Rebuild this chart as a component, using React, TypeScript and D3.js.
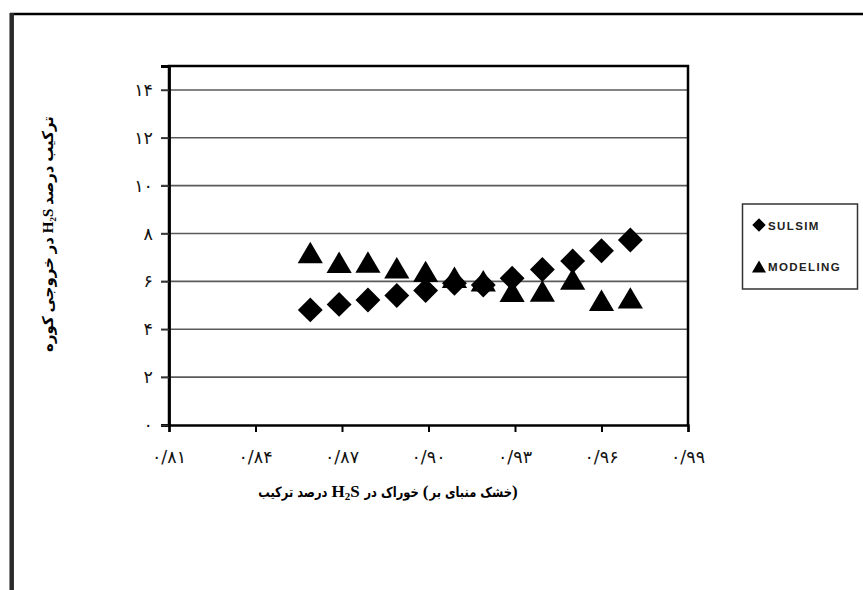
import React, { useEffect, useRef } from "react";
import * as d3 from "d3";

// feed H2S fraction (dry basis)
const feedH2S = [0.859, 0.869, 0.879, 0.889, 0.899, 0.909, 0.919, 0.929, 0.9395, 0.95, 0.96, 0.97];
const sulsim = [4.81, 5.04, 5.22, 5.41, 5.62, 5.92, 5.85, 6.13, 6.5, 6.85, 7.28, 7.73];
const modeling = [7.21, 6.8, 6.81, 6.57, 6.42, 6.17, 6.03, 5.59, 5.6, 6.1, 5.21, 5.31];

const xTicks = [0.81, 0.84, 0.87, 0.9, 0.93, 0.96, 0.99];
const yTicks = [0, 2, 4, 6, 8, 10, 12, 14];
const seriesNames = ["SULSIM", "MODELING"];

const xTitleWords = ["ترکیب", "درصد", "H2S", "در", "خوراک", "(", "بر", "منبای", "خشک", ")"];
const yTitle = "ترکیب درصد H₂S در خروجی کوره";

const faDigits = "۰۱۲۳۴۵۶۷۸۹";
const toFa = (s: string) => s.replace(/\d/g, (c) => faDigits[+c]);

const PERSIAN = "'DejaVu Sans', sans-serif";

// triangle centred on its bounding box, like the spreadsheet marker
const triangle = {
  draw(ctx: any, size: number) {
    const w = Math.sqrt((size * 4) / Math.sqrt(3));
    const h = w * 0.85;
    ctx.moveTo(0, -h / 2);
    ctx.lineTo(w / 2, h / 2);
    ctx.lineTo(-w / 2, h / 2);
    ctx.closePath();
  },
};

export default function App() {
  const svgRef = useRef<SVGSVGElement>(null);

  useEffect(() => {
    const width = 863;
    const height = 590;
    const svg = d3.select(svgRef.current).attr("width", width).attr("height", height);
    svg.selectAll("*").remove();

    svg.append("rect").attr("width", width).attr("height", height).attr("fill", "#fff");

    // outer frame (cut by the image edge at right and bottom)
    svg.append("line").attr("x1", 10).attr("x2", width).attr("y1", 14).attr("y2", 14)
      .attr("stroke", "#000").attr("stroke-width", 2.5);
    svg.append("line").attr("x1", 11.7).attr("x2", 11.7).attr("y1", 13).attr("y2", height)
      .attr("stroke", "#2a2a2a").attr("stroke-width", 4.5);

    const left = 169, right = 688, top = 66, bottom = 425;

    const x = d3.scaleLinear().domain([0.81, 0.99]).range([left, right]);
    const y = d3.scaleLinear().domain([0, 15]).range([bottom, top]);

    // gridlines
    svg.append("g")
      .selectAll("line")
      .data(yTicks.filter((d) => d > 0))
      .join("line")
      .attr("x1", left - 8).attr("x2", right)
      .attr("y1", (d) => y(d)).attr("y2", (d) => y(d))
      .attr("stroke", "#5a5a5a").attr("stroke-width", 1.6);

    // plot frame
    svg.append("path")
      .attr("d", `M${left},${bottom}V${top}H${right}V${bottom}`)
      .attr("fill", "none").attr("stroke", "#000").attr("stroke-width", 2.5);

    const yAxis = d3.axisLeft(y).tickValues(yTicks).tickSize(8).tickFormat(() => "");
    const gy = svg.append("g").attr("transform", `translate(${left},0)`).call(yAxis);
    gy.select(".domain").attr("stroke-width", 2.8);
    gy.selectAll(".tick line").attr("stroke", "#333").attr("stroke-width", 1.6);

    const xAxis = d3.axisBottom(x).tickValues(xTicks).tickSize(7).tickFormat(() => "");
    const gx = svg.append("g").attr("transform", `translate(0,${bottom})`).call(xAxis);
    gx.select(".domain").attr("stroke-width", 2.4);
    gx.selectAll(".tick line").attr("stroke-width", 2);

    // tick labels
    svg.append("g")
      .selectAll("text")
      .data(yTicks)
      .join("text")
      .attr("x", 153)
      .attr("y", (d) => y(d) + 6)
      .attr("text-anchor", "end")
      .attr("font-family", PERSIAN)
      .attr("font-size", 17.5)
      .attr("fill", "#111")
      .text((d) => toFa(String(d)));

    svg.append("g")
      .selectAll("text")
      .data(xTicks)
      .join("text")
      .attr("x", (d) => x(d))
      .attr("y", 463)
      .attr("text-anchor", "middle")
      .attr("font-family", PERSIAN)
      .attr("font-size", 17.5)
      .attr("fill", "#111")
      .text((d) => toFa(d3.format(".2f")(d)).replace(".", "/"));

    // markers
    const diamondPath = d3.symbol().type(d3.symbolSquare).size(310)();
    const triPath = d3.symbol().type(triangle as any).size(275)();

    svg.append("g")
      .selectAll("path")
      .data(sulsim)
      .join("path")
      .attr("d", diamondPath)
      .attr("transform", (d, i) => `translate(${x(feedH2S[i])},${y(d)}) rotate(45)`)
      .attr("fill", "#000");

    svg.append("g")
      .selectAll("path")
      .data(modeling)
      .join("path")
      .attr("d", triPath)
      .attr("transform", (d, i) => `translate(${x(feedH2S[i])},${y(d)})`)
      .attr("fill", "#000");

    // legend
    const lg = svg.append("g");
    lg.append("rect").attr("x", 742.5).attr("y", 204).attr("width", 115).attr("height", 85)
      .attr("fill", "#fff").attr("stroke", "#333").attr("stroke-width", 1.5);
    const smallDiamond = d3.symbol().type(d3.symbolSquare).size(90)();
    const smallTri = d3.symbol().type(triangle as any).size(85)();
    seriesNames.forEach((name, i) => {
      const cy = 225 + i * 41.5;
      lg.append("path").attr("d", i === 0 ? smallDiamond : smallTri)
        .attr("transform", `translate(${759},${cy})${i === 0 ? " rotate(45)" : ""}`)
        .attr("fill", "#000");
      lg.append("text").attr("x", 768).attr("y", cy + 4.5)
        .attr("font-family", "'Liberation Sans', Arial, sans-serif")
        .attr("font-weight", "bold").attr("font-size", 11.5)
        .attr("letter-spacing", 1.4).attr("fill", "#222")
        .text(name);
    });

    // x axis title, words laid out left to right as in the source
    const tg = svg.append("g");
    const nodes: { el: SVGTextElement; gapAfter: number; sx: number }[] = [];
    xTitleWords.forEach((w, i) => {
      const t = tg.append("text")
        .attr("y", 497)
        .attr("font-weight", "bold")
        .attr("font-size", 14)
        .attr("fill", "#000");
      let sx = 1;
      if (w === "H2S") {
        t.attr("font-family", "'Liberation Serif', serif").attr("font-size", 17);
        t.append("tspan").text("H");
        t.append("tspan").attr("font-size", 11).attr("dy", 3).text("2");
        t.append("tspan").attr("dy", -3).text("S");
      } else if (w === "(" || w === ")") {
        t.attr("font-family", "'Liberation Serif', serif").attr("font-size", 17).text(w);
      } else {
        sx = 0.82;
        t.attr("font-family", PERSIAN).attr("direction", "rtl").attr("text-anchor", "end").text(w);
      }
      const next = xTitleWords[i + 1];
      const gap = w === "(" || next === ")" || next === undefined ? 0 : 4;
      nodes.push({ el: t.node() as SVGTextElement, gapAfter: gap, sx });
    });
    let cx = 0;
    nodes.forEach((n) => {
      const bb = n.el.getBBox();
      const dx = cx - bb.x * n.sx;
      n.el.setAttribute("transform", `translate(${dx},0) scale(${n.sx},1)`);
      cx += bb.width * n.sx + n.gapAfter;
    });
    const titleCenter = 388;
    tg.attr("transform", `translate(${titleCenter - cx / 2},0)`);

    // y axis title
    svg.append("text")
      .attr("transform", "translate(53,234) rotate(-90)")
      .attr("text-anchor", "middle")
      .attr("direction", "rtl")
      .attr("font-family", `'Liberation Serif', ${PERSIAN}`)
      .attr("font-weight", "bold")
      .attr("font-size", 15)
      .attr("fill", "#000")
      .text(yTitle);
  }, []);

  return (
    <div className="chart">
      <svg ref={svgRef} style={{ position: "absolute", left: 0, top: 0 }}></svg>
    </div>
  );
}
